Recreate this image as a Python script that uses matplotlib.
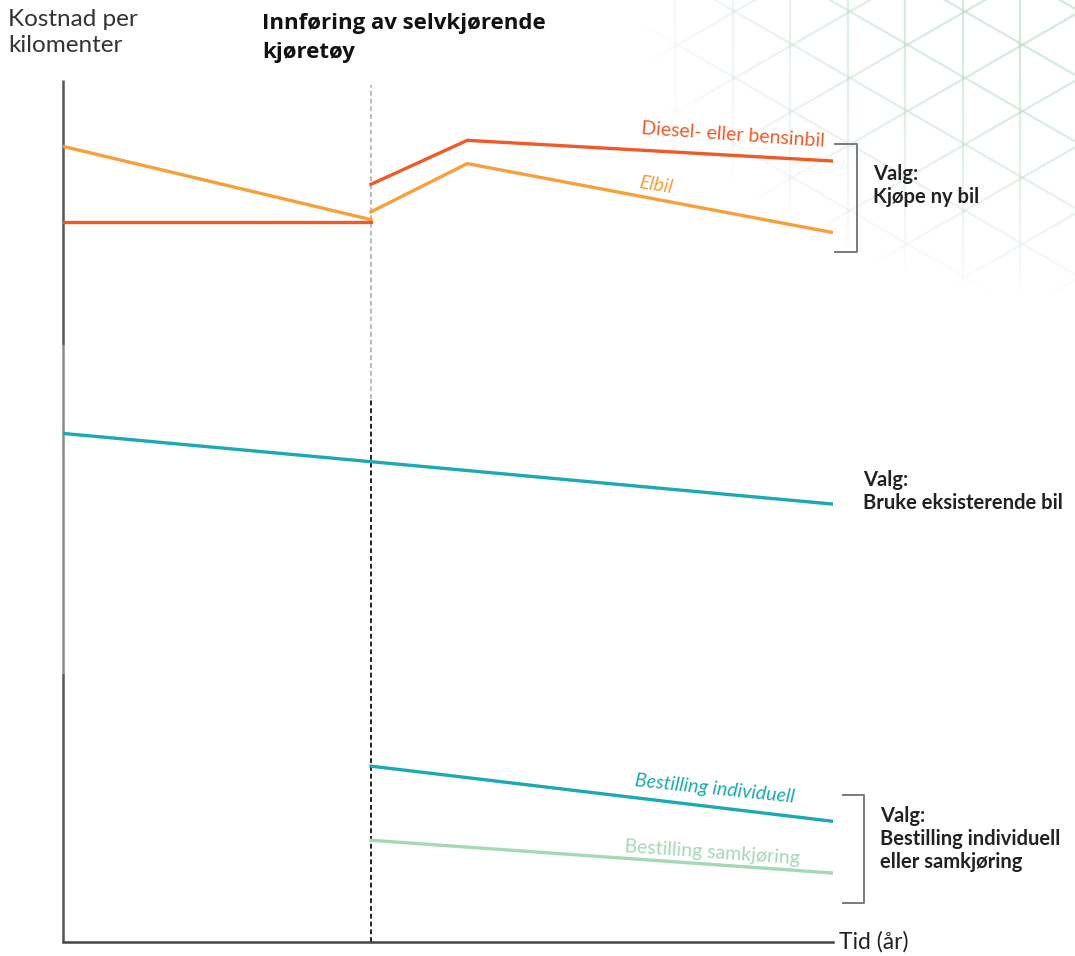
import numpy as np
import matplotlib
matplotlib.use("Agg")
import matplotlib.pyplot as plt
from matplotlib.collections import LineCollection

# time axis (år), cost per km (relative units)
t_intro = 4.0
t_end = 10.0

diesel_t_before = [0, 4]
diesel_before = [83.5, 83.5]
diesel_t_after = [4, 5.25, 10]
diesel_after = [87.9, 93.0, 90.6]

elbil_t_before = [0, 4]
elbil_before = [92.3, 83.8]
elbil_t_after = [4, 5.25, 10]
elbil_after = [84.7, 90.3, 82.3]

existing_t = [0, 10]
existing = [59.0, 50.8]

individ_t = [4, 10]
individ = [20.4, 14.0]

samk_t = [4, 10]
samk = [11.8, 8.0]

c_diesel = "#F05A28"
c_elbil = "#F7A03A"
c_teal = "#1CA9B3"
c_green = "#A6D8B6"

W, H = 1075, 956
fig = plt.figure(figsize=(W / 100, H / 100), dpi=100)

# faint hex pattern in top right corner (decoration)
bg = fig.add_axes([0, 0, 1, 1], zorder=0)
bg.set_xlim(0, W)
bg.set_ylim(H, 0)
bg.axis("off")
segs = []
cols = []
step = 57.5
ang = np.tan(np.radians(30))
lines = []
for k in range(-8, 8):
    x = 790 + k * step
    lines.append(((x, -10), (x, 500)))
for k in range(-30, 30):
    y0 = k * step * ang * 2
    lines.append(((600, y0), (1100, y0 + 500 * ang)))
    lines.append(((600, y0 + 500 * ang), (1100, y0)))
for (x0, y0), (x1, y1) in lines:
    n = 60
    xs = np.linspace(x0, x1, n + 1)
    ys = np.linspace(y0, y1, n + 1)
    for i in range(n):
        xm = (xs[i] + xs[i + 1]) / 2
        ym = (ys[i] + ys[i + 1]) / 2
        d = ((W - xm) / 440) ** 2 + (ym / 300) ** 2
        a = max(0.0, 1 - d) * 0.6
        if a > 0.01:
            segs.append([(xs[i], ys[i]), (xs[i + 1], ys[i + 1])])
            cols.append((0.72, 0.86, 0.75, a))
bg.add_collection(LineCollection(segs, colors=cols, linewidths=1.6))

ax = fig.add_axes([63 / W, (H - 942) / H, (833 - 63) / W, (942 - 80) / H], zorder=1)
ax.patch.set_alpha(0)
ax.set_xlim(0, t_end)
ax.set_ylim(0, 100)
for s in ["top", "right", "left"]:
    ax.spines[s].set_visible(False)
ax.spines["bottom"].set_color("#444444")
ax.spines["bottom"].set_linewidth(1.8)
ax.set_xticks([])
ax.set_yticks([])

# y axis drawn in segments (different grey)
ax.plot([0, 0], [0, 31.2], color="#555555", lw=1.8, clip_on=False, solid_capstyle="butt")
ax.plot([0, 0], [31.2, 69.2], color="#8a8a8a", lw=1.8, clip_on=False, solid_capstyle="butt")
ax.plot([0, 0], [69.2, 100], color="#555555", lw=1.8, clip_on=False, solid_capstyle="butt")

# introduction of self-driving vehicles
ax.plot([t_intro, t_intro], [63.0, 99.4], color="#bbbbbb", lw=1.4, dashes=(2.5, 1.5))
ax.plot([t_intro, t_intro], [0, 63.0], color="#222222", lw=1.4, dashes=(2.5, 1.5))

lw = 2.4
ax.plot(elbil_t_before, elbil_before, color=c_elbil, lw=lw)
ax.plot(diesel_t_before, diesel_before, color=c_diesel, lw=lw)
ax.plot(diesel_t_after, diesel_after, color=c_diesel, lw=lw)
ax.plot(elbil_t_after, elbil_after, color=c_elbil, lw=lw)
ax.plot(existing_t, existing, color=c_teal, lw=lw)
ax.plot(individ_t, individ, color=c_teal, lw=lw)
ax.plot(samk_t, samk, color=c_green, lw=lw)

lab = "Lato"
ax.text(8.7, 93.6, "Diesel- eller bensinbil", color=c_diesel, fontsize=14,
        family=lab, rotation=-4, ha="center", va="center")
ax.text(7.7, 87.8, "Elbil", color=c_elbil, fontsize=14, family=lab,
        style="italic", rotation=-9, ha="center", va="center")
ax.text(8.47, 17.8, "Bestilling individuell", color=c_teal, fontsize=14,
        family=lab, style="italic", rotation=-6, ha="center", va="center")
ax.text(8.43, 10.4, "Bestilling samkjøring", color=c_green, fontsize=14,
        family=lab, rotation=-4, ha="center", va="center")

# brackets
br = "#7a7a7a"
ax.plot([10.03, 10.31, 10.31, 10.03], [92.6, 92.6, 80.1, 80.1], color=br,
        lw=1.4, clip_on=False)
ax.plot([10.13, 10.40, 10.40, 10.13], [17.1, 17.1, 4.5, 4.5], color=br,
        lw=1.4, clip_on=False)

vk = dict(fontsize=14.5, family=lab, fontweight="bold", color="#222222",
          ha="left", va="top", linespacing=1.2, clip_on=False)
ax.text(10.52, 90.3, "Valg:\nKjøpe ny bil", **vk)
ax.text(10.39, 54.8, "Valg:\nBruke eksisterende bil", **vk)
ax.text(10.61, 15.8, "Valg:\nBestilling individuell\neller samkjøring", **vk)

ax.text(10.08, 0, "Tid (år)", fontsize=16.5, family=lab, color="#222222",
        ha="left", va="center", clip_on=False)

fig.text(8 / W, 1 - 9 / H, "Kostnad per\nkilomenter", fontsize=17.5, family=lab,
         color="#333333", ha="left", va="top", linespacing=1.3)
fig.text(262 / W, 1 - 13 / H, "Innføring av selvkjørende\nkjøretøy", fontsize=16,
         family="Open Sans", fontweight="bold", color="#111111", ha="left",
         va="top", linespacing=1.5)

fig.savefig("out.png", dpi=100)
